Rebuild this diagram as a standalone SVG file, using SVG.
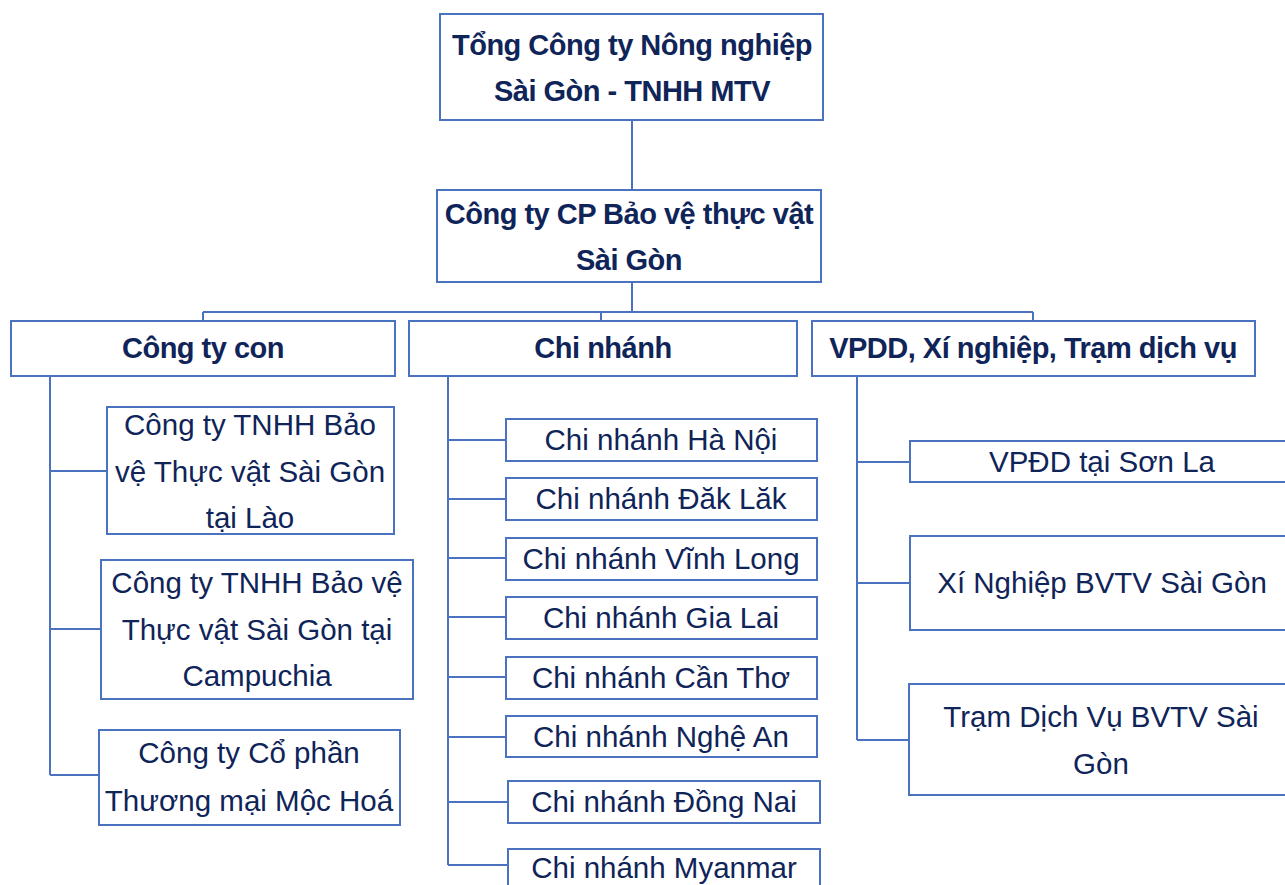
<svg xmlns="http://www.w3.org/2000/svg" width="1285" height="885" viewBox="0 0 1285 885">
<style>
.b{fill:#fff;stroke:#4a72c0;stroke-width:2}
.c{fill:none;stroke:#4a72c0;stroke-width:2}
text{font-family:"Liberation Sans",Arial,sans-serif;fill:#0f2458;text-anchor:middle}
.t{font-size:29.5px}
.h{font-size:29px;font-weight:bold;letter-spacing:-0.5px}
</style>
<rect width="1285" height="885" fill="#fff"/>
<g id="connectors">
<path class="c" d="M632 120V190M632 282V312M203 312H1033M203 312V321M601 312V321M1033 312V321"/>
<path class="c" d="M50 376V775M50 471H107M50 629H101M50 775H99"/>
<path class="c" d="M448 376V865M448 440H506M448 499H506M448 558H506M448 617H506M448 677H506M448 737H506M448 802H508M448 865H508"/>
<path class="c" d="M857 376V740M857 462H910M857 583H910M857 740H909"/>
</g>
<g id="n-root"><rect class="b" x="440" y="14" width="383" height="106"/><text class="h" x="632" y="55">Tổng Công ty Nông nghiệp</text><text class="h" x="632" y="101">Sài Gòn - TNHH MTV</text></g>
<g id="n-cp"><rect class="b" x="437" y="190" width="384" height="92"/><text class="h" x="629" y="224">Công ty CP Bảo vệ thực vật</text><text class="h" x="629" y="270">Sài Gòn</text></g>
<g id="n-con"><rect class="b" x="11" y="321" width="384" height="55"/><text class="h" x="203" y="358">Công ty con</text></g>
<g id="n-cn"><rect class="b" x="409" y="321" width="388" height="55"/><text class="h" x="603" y="358">Chi nhánh</text></g>
<g id="n-vp"><rect class="b" x="812" y="321" width="443" height="55"/><text class="h" x="1033" y="358">VPDD, Xí nghiệp, Trạm dịch vụ</text></g>
<g id="n-lao"><rect class="b" x="107" y="407" width="287" height="127"/><text class="t" x="250" y="435">Công ty TNHH Bảo</text><text class="t" x="250" y="482">vệ Thực vật Sài Gòn</text><text class="t" x="250" y="528">tại Lào</text></g>
<g id="n-cam"><rect class="b" x="101" y="560" width="312" height="139"/><text class="t" x="257" y="593">Công ty TNHH Bảo vệ</text><text class="t" x="257" y="640">Thực vật Sài Gòn tại</text><text class="t" x="257" y="686">Campuchia</text></g>
<g id="n-mh"><rect class="b" x="99" y="730" width="301" height="95"/><text class="t" x="249" y="763">Công ty Cổ phần</text><text class="t" x="249" y="811">Thương mại Mộc Hoá</text></g>
<g id="n-hn"><rect class="b" x="506" y="419" width="311" height="42"/><text class="t" x="661" y="450">Chi nhánh Hà Nội</text></g>
<g id="n-dl"><rect class="b" x="506" y="478" width="311" height="42"/><text class="t" x="661" y="509">Chi nhánh Đăk Lăk</text></g>
<g id="n-vl"><rect class="b" x="506" y="538" width="311" height="42"/><text class="t" x="661" y="569">Chi nhánh Vĩnh Long</text></g>
<g id="n-gl"><rect class="b" x="506" y="597" width="311" height="42"/><text class="t" x="661" y="628">Chi nhánh Gia Lai</text></g>
<g id="n-ct"><rect class="b" x="506" y="657" width="311" height="42"/><text class="t" x="661" y="688">Chi nhánh Cần Thơ</text></g>
<g id="n-na"><rect class="b" x="506" y="716" width="311" height="41"/><text class="t" x="661" y="747">Chi nhánh Nghệ An</text></g>
<g id="n-dn"><rect class="b" x="508" y="781" width="312" height="42"/><text class="t" x="664" y="812">Chi nhánh Đồng Nai</text></g>
<g id="n-mm"><rect class="b" x="508" y="849" width="312" height="42"/><text class="t" x="664" y="878">Chi nhánh Myanmar</text></g>
<g id="n-sl"><rect class="b" x="910" y="441" width="380" height="41"/><text class="t" x="1102" y="472">VPĐD tại Sơn La</text></g>
<g id="n-xn"><rect class="b" x="910" y="536" width="380" height="94"/><text class="t" x="1102" y="593">Xí Nghiệp BVTV Sài Gòn</text></g>
<g id="n-tr"><rect class="b" x="909" y="684" width="381" height="111"/><text class="t" x="1101" y="727">Trạm Dịch Vụ BVTV Sài</text><text class="t" x="1101" y="774">Gòn</text></g>
</svg>
